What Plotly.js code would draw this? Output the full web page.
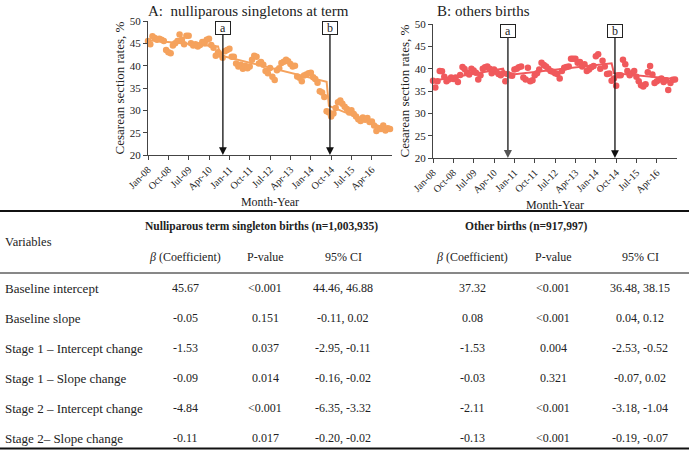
<!DOCTYPE html>
<html>
<head>
<meta charset="utf-8">
<script src="https://cdn.plot.ly/plotly-3.0.1.min.js"></script>
<style>
  html, body { margin: 0; padding: 0; background: #fff; }
  #chart { width: 689px; height: 450px; }
</style>
</head>
<body>
<div id="chart"></div>
<script>
// monthly series, Jan 2008 .. Dec 2016
const nulliparousRates = [
  45.5, 44.8, 46.6, 46.2, 45.8, 46.0, 45.8, 45.5, 43.5, 43.0, 42.8, 44.5,
  45.0, 45.5, 47.0, 45.8, 44.8, 46.7, 46.7, 45.0, 44.5, 44.8, 44.3, 44.6,
  45.3, 45.0, 45.8, 46.0, 44.6, 44.0, 42.2, 43.0, 42.5, 41.8, 43.2, 43.5,
  43.8, 42.0, 42.0, 40.5, 39.8, 40.2, 39.3, 40.0, 39.4, 39.8, 41.3, 42.2,
  42.0, 40.5, 40.8, 40.2, 38.8, 38.3, 39.5, 37.5, 36.8, 39.0, 39.4, 40.6,
  40.9, 41.3, 41.0, 40.4, 39.8, 40.0, 37.6, 37.3, 36.5, 37.8, 38.0, 38.3,
  38.4, 37.4, 37.0, 36.2, 34.3, 34.0, 33.0, 29.8, 29.5, 28.6, 29.3, 30.5,
  31.8, 32.2, 31.5, 30.8, 30.3, 29.5, 30.0, 29.2, 28.6, 28.0, 27.6, 28.4,
  27.9, 28.3, 27.4, 27.5, 26.6, 25.4, 26.0, 25.8, 26.6, 25.5, 26.0, 25.8
];

const otherRates = [
  37.3, 35.8, 37.2, 39.5, 39.4, 38.2, 37.2, 37.6, 38.0, 37.7, 38.0, 37.0,
  38.6, 40.4, 39.9, 39.1, 38.7, 40.0, 39.6, 39.1, 37.6, 38.5, 40.0, 40.3,
  40.5, 40.0, 39.0, 39.8, 39.3, 38.8, 38.5, 39.0, 37.2, 38.8, 38.5, 38.4,
  39.8, 40.0, 40.3, 40.5, 38.0, 37.6, 40.2, 37.2, 37.4, 38.5, 39.0, 39.8,
  41.3, 40.8, 40.5, 40.0, 39.5, 39.3, 39.0, 38.8, 37.8, 39.5, 40.2, 40.4,
  40.5, 42.2, 42.2, 42.2, 41.3, 41.5, 40.5, 41.0, 39.5, 39.8, 40.3, 40.6,
  42.8, 43.2, 40.0, 41.8, 40.5, 38.8, 38.9, 37.3, 37.8, 36.2, 38.5, 38.5,
  42.0, 41.0, 39.5, 38.5, 39.0, 39.5, 38.2, 37.2, 36.3, 36.0, 36.5, 39.2,
  40.6, 38.7, 36.8, 37.2, 37.5, 37.8, 37.0, 37.4, 35.2, 36.8, 37.5, 37.6
];

// segmented regression lines
const trendDates = ['2008-01-01', '2010-08-01', '2010-09-01', '2014-08-01', '2014-09-01', '2016-12-01'];
const trendNulliparous = [45.7, 44.3, 42.3, 36.4, 31.0, 25.5];
const trendOther = [37.3, 40.0, 38.5, 41.2, 39.0, 37.7];

const interventionDates = ['2010-10-05', '2014-09-15'];
const interventionLabels = ['a', 'b'];

// table
const groupHeaders = ['Nulliparous term singleton births (n=1,003,935)', 'Other births (n=917,997)'];
const columnHeaders = ['<i>β</i> (Coefficient)', 'P-value', '95% CI'];
const variables = ['Baseline intercept', 'Baseline slope', 'Stage 1 – Intercept change',
  'Stage 1 – Slope change', 'Stage 2 – Intercept change', 'Stage 2– Slope change'];
const nullBeta = ['45.67', '-0.05', '-1.53', '-0.09', '-4.84', '-0.11'];
const nullP = ['&lt;0.001', '0.151', '0.037', '0.014', '&lt;0.001', '0.017'];
const nullCI = ['44.46, 46.88', '-0.11, 0.02', '-2.95, -0.11', '-0.16, -0.02', '-6.35, -3.32', '-0.20, -0.02'];
const otherBeta = ['37.32', '0.08', '-1.53', '-0.03', '-2.11', '-0.13'];
const otherP = ['&lt;0.001', '&lt;0.001', '0.004', '0.321', '&lt;0.001', '&lt;0.001'];
const otherCI = ['36.48, 38.15', '0.04, 0.12', '-2.53, -0.52', '-0.07, 0.02', '-3.18, -1.04', '-0.19, -0.07'];

const months = [];
for (let yr = 2008; yr <= 2016; yr++) {
  for (let m = 1; m <= 12; m++) months.push(`${yr}-${String(m).padStart(2, '0')}-01`);
}

const W = 689, H = 450;
const px = x => x / W;
const py = y => 1 - y / H;

const orange = '#F5A25D';
const red = '#F0595C';
const serif = 'Liberation Serif, Times New Roman, serif';

const traces = [
  { x: months, y: nulliparousRates, mode: 'markers', type: 'scatter', xaxis: 'x', yaxis: 'y',
    marker: { color: orange, size: 6.5 }, cliponaxis: false, hoverinfo: 'skip' },
  { x: trendDates, y: trendNulliparous, mode: 'lines', type: 'scatter', xaxis: 'x', yaxis: 'y',
    line: { color: orange, width: 2 }, hoverinfo: 'skip' },
  { x: months, y: otherRates, mode: 'markers', type: 'scatter', xaxis: 'x2', yaxis: 'y2',
    marker: { color: red, size: 6.5 }, cliponaxis: false, hoverinfo: 'skip' },
  { x: trendDates, y: trendOther, mode: 'lines', type: 'scatter', xaxis: 'x2', yaxis: 'y2',
    line: { color: red, width: 2 }, hoverinfo: 'skip' }
];

function xAxis(domain, anchor) {
  return {
    domain: domain, anchor: anchor, type: 'date',
    range: ['2008-01-01', '2016-12-28'],
    tick0: '2008-01-01', dtick: 'M9', tickformat: '%b-%y', tickangle: -45,
    ticks: 'outside', ticklen: 4, tickcolor: '#444',
    showline: true, linecolor: '#444', linewidth: 1, showgrid: false, zeroline: false,
    tickfont: { size: 10, family: serif, color: '#222' },
    title: { text: 'Month-Year', font: { size: 12, family: serif, color: '#222' }, standoff: 6 }
  };
}

function yAxis(domain, anchor) {
  return {
    domain: domain, anchor: anchor, range: [20, 50], dtick: 5,
    ticks: 'outside', ticklen: 4, tickcolor: '#444',
    showline: true, linecolor: '#444', linewidth: 1, showgrid: false, zeroline: false,
    tickfont: { size: 11, family: serif, color: '#222' },
    title: { text: 'Cesarean section rates, %', font: { size: 13, family: serif, color: '#222' }, standoff: 2 }
  };
}

const annotations = [
  { xref: 'paper', yref: 'paper', x: px(146), y: py(11), xanchor: 'left', yanchor: 'middle',
    text: 'A:  nulliparous singletons at term', showarrow: false, font: { size: 15, family: serif, color: '#222' } },
  { xref: 'paper', yref: 'paper', x: px(435), y: py(11), xanchor: 'left', yanchor: 'middle',
    text: 'B: others births', showarrow: false, font: { size: 15, family: serif, color: '#222' } }
];

[['x', 'y'], ['x2', 'y2']].forEach(([xr, yr]) => {
  interventionDates.forEach((d, i) => {
    const heavy = xr === 'x2' && i === 0;
    annotations.push({
      xref: xr, yref: yr, x: d, y: 20, axref: xr, ayref: yr, ax: d, ay: 48.4,
      text: interventionLabels[i], showarrow: true, arrowhead: 2,
      arrowsize: heavy ? 0.9 : 1.2,
      arrowwidth: heavy ? 1.8 : 1.3,
      arrowcolor: heavy ? '#555' : '#111',
      bordercolor: '#222', borderwidth: 1, borderpad: 0, bgcolor: '#fff',
      width: 14, height: 12,
      font: { size: 12, family: serif, color: '#222' }
    });
  });
});

const groupCenters = [261, 526];
const colCenters = [185, 265, 343, 472, 553, 640];
const rowY = [288, 318, 348, 378, 408, 438];
const cell = (x, y, text, anchor, size) => ({
  xref: 'paper', yref: 'paper', x: px(x), y: py(y), xanchor: anchor || 'center', yanchor: 'middle',
  text: text, showarrow: false, font: { size: size || 12, family: serif, color: '#222' }
});

groupHeaders.forEach((g, i) => annotations.push(cell(groupCenters[i], 226, '<b>' + g + '</b>', 'center', 11.5)));
annotations.push(cell(3, 242, 'Variables', 'left', 12.5));
colCenters.forEach((c, i) => annotations.push(cell(c, 257, columnHeaders[i % 3])));

const columns = [nullBeta, nullP, nullCI, otherBeta, otherP, otherCI];
variables.forEach((v, r) => {
  annotations.push(cell(3, rowY[r], v, 'left', 13));
  columns.forEach((col, c) => annotations.push(cell(colCenters[c], rowY[r], col[r])));
});

const shapes = [
  { type: 'line', xref: 'paper', yref: 'paper', x0: 0, x1: 1, y0: py(211), y1: py(211), line: { color: '#111', width: 2 } },
  { type: 'line', xref: 'paper', yref: 'paper', x0: 0, x1: 1, y0: py(273), y1: py(273), line: { color: '#111', width: 1 } },
  { type: 'line', xref: 'paper', yref: 'paper', x0: 0, x1: 1, y0: py(448.5), y1: py(448.5), line: { color: '#111', width: 2 } }
];

const layout = {
  width: W, height: H,
  margin: { l: 0, r: 0, t: 0, b: 0 },
  showlegend: false,
  paper_bgcolor: '#fff', plot_bgcolor: '#fff',
  font: { family: serif, color: '#222' },
  xaxis: xAxis([px(148), px(392)], 'y'),
  yaxis: yAxis([py(155), py(21)], 'x'),
  xaxis2: xAxis([px(433), px(677)], 'y2'),
  yaxis2: yAxis([py(158), py(24)], 'x2'),
  annotations: annotations,
  shapes: shapes
};

Plotly.newPlot('chart', traces, layout, { displayModeBar: false, staticPlot: true });
</script>
</body>
</html>
